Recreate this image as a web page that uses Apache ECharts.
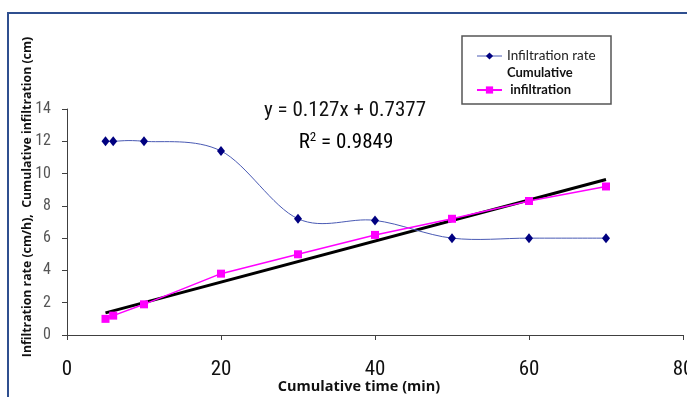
<!DOCTYPE html>
<html>
<head>
<meta charset="utf-8">
<script src="https://cdn.jsdelivr.net/npm/echarts@6/dist/echarts.min.js"></script>
<style>
html,body{margin:0;padding:0;background:#fff;}
#chart{width:687px;height:397px;}
</style>
</head>
<body>
<div id="chart"></div>
<script>
// Data
var timeMin = [5, 6, 10, 20, 30, 40, 50, 60, 70];
var infiltrationRate = [12, 12, 12, 11.4, 7.2, 7.1, 6, 6, 6];
var cumulativeInfiltration = [1.0, 1.2, 1.9, 3.8, 5.0, 6.2, 7.2, 8.3, 9.2];
var trendX = [5, 70];
var trendY = [1.37, 9.63];
var xTicks = [0, 20, 40, 60, 80];
var yTicks = [0, 2, 4, 6, 8, 10, 12, 14];
var seriesNames = ['Infiltration rate', 'Cumulative infiltration'];
var equationText = 'y = 0.127x + 0.7377';
var r2Value = '0.9849';
var xTitle = 'Cumulative time (min)';
var yTitle = 'Infiltration rate (cm/h),  Cumulative infiltration (cm)';

function pairs(xs, ys) { return xs.map(function (x, i) { return [x, ys[i]]; }); }

var rateBlue = '#4a5ab4';
var narrow = "'Liberation Sans Narrow', 'Arial Narrow', 'Roboto Condensed', 'Liberation Sans', Arial, sans-serif";
var titleFont = "'Open Sans', Lato, sans-serif";

// Excel-like smoothed curve (Catmull-Rom through the points, in pixel space via the axes)
function renderSmooth(params, api) {
  if (params.dataIndex !== 0) return null;
  var pts = timeMin.map(function (x, i) { return api.coord([x, infiltrationRate[i]]); });
  var d = 'M' + pts[0][0] + ' ' + pts[0][1];
  for (var i = 0; i < pts.length - 1; i++) {
    var p0 = pts[Math.max(i - 1, 0)], p1 = pts[i], p2 = pts[i + 1], p3 = pts[Math.min(i + 2, pts.length - 1)];
    var c1x = p1[0] + (p2[0] - p0[0]) / 6, c1y = p1[1] + (p2[1] - p0[1]) / 6;
    var c2x = p2[0] - (p3[0] - p1[0]) / 6, c2y = p2[1] - (p3[1] - p1[1]) / 6;
    d += ' C' + c1x + ' ' + c1y + ' ' + c2x + ' ' + c2y + ' ' + p2[0] + ' ' + p2[1];
  }
  return {type: 'path', shape: {pathData: d}, style: {fill: 'none', stroke: rateBlue, lineWidth: 1}};
}

var chart = echarts.init(document.getElementById('chart'), null, {renderer: 'canvas'});
chart.setOption({
  animation: false,
  backgroundColor: '#ffffff',
  grid: {left: 67, right: 4, top: 109, bottom: 62, containLabel: false, outerBoundsMode: 'none'},
  xAxis: {
    type: 'value', min: xTicks[0], max: xTicks[xTicks.length - 1], interval: 20,
    axisLine: {show: true, lineStyle: {color: '#404040', width: 1}},
    axisTick: {show: true, length: 5, lineStyle: {color: '#404040'}},
    splitLine: {show: false},
    axisLabel: {margin: 24, color: '#111', fontSize: 21, fontFamily: narrow}
  },
  yAxis: {
    type: 'value', min: yTicks[0], max: yTicks[yTicks.length - 1], interval: 2,
    axisLine: {show: true, lineStyle: {color: '#404040', width: 1}},
    axisTick: {show: true, length: 5, lineStyle: {color: '#404040'}},
    splitLine: {show: false},
    axisLabel: {margin: 16, color: '#555', fontSize: 16, fontFamily: narrow}
  },
  legend: {
    orient: 'vertical', left: 476, top: 47.5, padding: 0, itemGap: 0,
    itemWidth: 25, itemHeight: 9,
    data: [
      {name: seriesNames[0], lineStyle: {color: rateBlue, width: 1, opacity: 1}},
      {name: seriesNames[1]}
    ],
    textStyle: {
      color: '#222', fontFamily: 'Lato, sans-serif', fontSize: 13.5, lineHeight: 17,
      rich: {
        n: {fontFamily: 'Lato, sans-serif', fontSize: 13.5, lineHeight: 17, color: '#222'},
        c: {fontFamily: 'Lato, sans-serif', fontSize: 13, fontWeight: 'bold', lineHeight: 17, color: '#111'}
      }
    },
    formatter: function (name) {
      if (name === seriesNames[1]) {
        var parts = name.split(' ');
        return '{c|' + parts[0] + '}\n{c| ' + parts[1] + '}\n{c| }';
      }
      return '{n|' + name + '}';
    }
  },
  graphic: [
    {type: 'rect', shape: {x: 8, y: 13, width: 700, height: 400}, style: {fill: 'none', stroke: '#2f4f8f', lineWidth: 2}, z: 0, silent: true},
    {type: 'rect', shape: {x: 462, y: 36, width: 149, height: 68}, style: {fill: 'none', stroke: '#555', lineWidth: 1.5}, z: 1, silent: true},
    {type: 'text', x: 345, y: 111, style: {text: equationText, fontSize: 21, fontFamily: narrow, fill: '#111', align: 'center', verticalAlign: 'middle'}},
    {type: 'text', x: 346, y: 143, style: {
      text: '{r|R}{s|2}{r| = ' + r2Value + '}', align: 'center', verticalAlign: 'middle',
      rich: {
        r: {fontSize: 21, fontFamily: narrow, color: '#111'},
        s: {fontSize: 13, fontFamily: narrow, color: '#111', verticalAlign: 'top', padding: [0, 0, 10, 0]}
      }
    }},
    {type: 'text', x: 359, y: 387, style: {text: xTitle, fontSize: 14.5, fontWeight: 'bold', fontFamily: titleFont, fill: '#111', align: 'center', verticalAlign: 'middle'}},
    {type: 'text', x: 27, y: 197, rotation: Math.PI / 2, style: {text: yTitle, fontSize: 12.3, fontWeight: 'bold', fontFamily: titleFont, fill: '#111', align: 'center', verticalAlign: 'middle'}}
  ],
  series: [
    {
      name: 'Infiltration rate curve', type: 'custom',
      data: pairs(timeMin, infiltrationRate),
      encode: {x: 0, y: 1},
      renderItem: renderSmooth,
      silent: true, z: 3
    },
    {
      name: seriesNames[0], type: 'line',
      data: pairs(timeMin, infiltrationRate),
      symbol: 'diamond', symbolSize: [8, 10],
      lineStyle: {color: rateBlue, width: 1, opacity: 0},
      itemStyle: {color: '#000080'},
      z: 5
    },
    {
      name: 'Linear trend', type: 'line',
      data: pairs(trendX, trendY),
      symbol: 'none',
      lineStyle: {color: '#000', width: 3},
      z: 2
    },
    {
      name: seriesNames[1], type: 'line',
      data: pairs(timeMin, cumulativeInfiltration),
      symbol: 'rect', symbolSize: 8,
      lineStyle: {color: '#ff00ff', width: 1.5},
      itemStyle: {color: '#ff00ff'},
      z: 4
    }
  ]
});
</script>
</body>
</html>
